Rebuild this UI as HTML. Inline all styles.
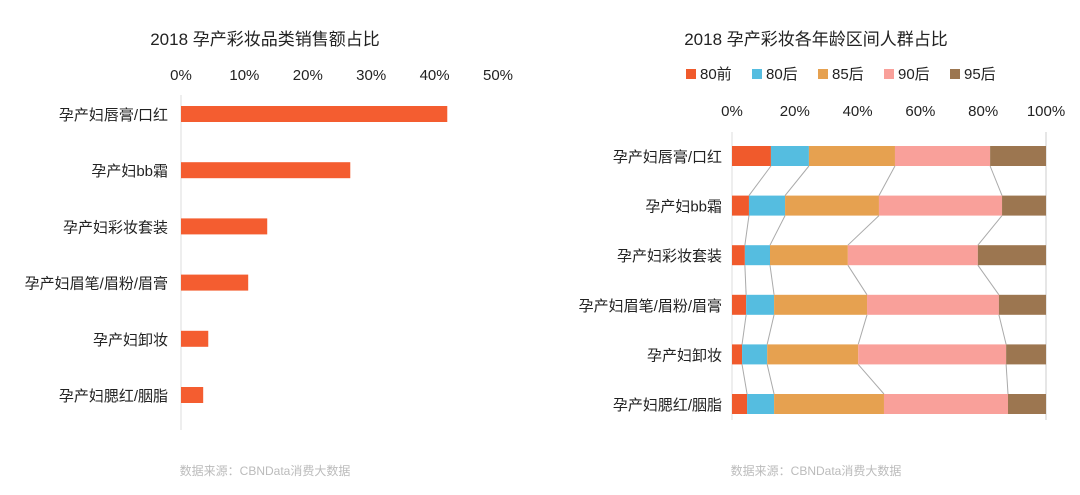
<!DOCTYPE html>
<html><head><meta charset="utf-8">
<style>
html,body{margin:0;padding:0;background:#fff;width:1080px;height:495px;overflow:hidden}
text{font-family:"Liberation Sans","Noto Sans CJK SC",sans-serif;fill:#222}
</style></head>
<body>
<svg id="svg" width="1080" height="495">
<text x="265" y="45" font-size="17" text-anchor="middle">2018 孕产彩妆品类销售额占比</text>
<text x="816" y="45" font-size="17" text-anchor="middle">2018 孕产彩妆各年龄区间人群占比</text>
<text x="265" y="475" font-size="12" text-anchor="middle" style="fill:#bbb">数据来源：CBNData消费大数据</text>
<text x="816" y="475" font-size="12" text-anchor="middle" style="fill:#bbb">数据来源：CBNData消费大数据</text>
<g id="left"></g><g id="right"></g><g id="legend"></g>
</svg>
<script>
const cats=["孕产妇唇膏/口红","孕产妇bb霜","孕产妇彩妆套装","孕产妇眉笔/眉粉/眉膏","孕产妇卸妆","孕产妇腮红/胭脂"];
const salesShare=[42.0,26.7,13.6,10.6,4.3,3.5];
const leftTicks=[0,10,20,30,40,50];
const ageGroups=["80前","80后","85后","90后","95后"];
const ageColors=["#f05a2c","#55bde0","#e6a150","#f9a09a","#9c7650"];
const s80前=[12.4,5.4,4.1,4.5,3.2,4.8];
const s80后=[12.1,11.5,8.0,8.9,8.0,8.6];
const s85后=[27.4,29.9,24.8,29.6,29.0,35.0];
const s90后=[30.3,39.2,41.4,42.0,47.1,39.5];
const s95后=[17.8,14.0,21.7,15.0,12.7,12.1];
const rightTicks=[0,20,40,60,80,100];
const NS="http://www.w3.org/2000/svg";
function mk(tag,attrs,parent,txt){const e=document.createElementNS(NS,tag);for(const k in attrs)e.setAttribute(k,attrs[k]);if(txt!==undefined)e.textContent=txt;parent.appendChild(e);return e;}
// left chart
const L=document.getElementById('left');
const lx=v=>181+v*(498-181)/50;
const ly=i=>114+i*56.2;
leftTicks.forEach(t=>{const e=mk('text',{x:lx(t),y:80,'font-size':15,'text-anchor':'middle'},L,t+'%');

});
const la=mk('line',{x1:181,y1:95,x2:181,y2:430,stroke:'#ddd'},L);


cats.forEach((c,i)=>{
const t=mk('text',{x:168,y:ly(i)+6,'font-size':15,'text-anchor':'end'},L,c);


const r=mk('rect',{x:lx(0),y:ly(i)-8,width:lx(salesShare[i])-lx(0),height:16,fill:'#f45d30'},L);


});
// right chart
const R=document.getElementById('right');
const rx=v=>732+v*(1046-732)/100;
const ry=i=>156+i*49.6;
rightTicks.forEach(t=>{const e=mk('text',{x:rx(t),y:116,'font-size':15,'text-anchor':'middle'},R,t+'%');

});
const ra=mk('line',{x1:732,y1:132,x2:732,y2:420,stroke:'#ddd'},R);


const rb=mk('line',{x1:1046,y1:132,x2:1046,y2:420,stroke:'#ccc'},R);


const series=[s80前,s80后,s85后,s90后,s95后];
const cum=cats.map((c,i)=>{let a=0;return series.map(s=>(a+=s[i]));});
// connectors
for(let i=0;i<cats.length-1;i++){for(let k=0;k<4;k++){
const l=mk('line',{x1:rx(cum[i][k]),y1:ry(i)+10,x2:rx(cum[i+1][k]),y2:ry(i+1)-10,stroke:'#aaa','stroke-width':1},R);

}}
cats.forEach((c,i)=>{
const t=mk('text',{x:722,y:ry(i)+6,'font-size':15,'text-anchor':'end'},R,c);


let a=0;
series.forEach((s,k)=>{
const r=mk('rect',{x:rx(a),y:ry(i)-10,width:rx(a+s[i])-rx(a),height:20,fill:ageColors[k]},R);


a+=s[i];});
});
// legend
const G=document.getElementById('legend');
const lgx=[686,752,818,884,950];
ageGroups.forEach((g,k)=>{
const r=mk('rect',{x:lgx[k],y:69,width:10,height:10,fill:ageColors[k]},G);


const t=mk('text',{x:lgx[k]+14,y:79,'font-size':15},G,g);


});
</script>
</body></html>
